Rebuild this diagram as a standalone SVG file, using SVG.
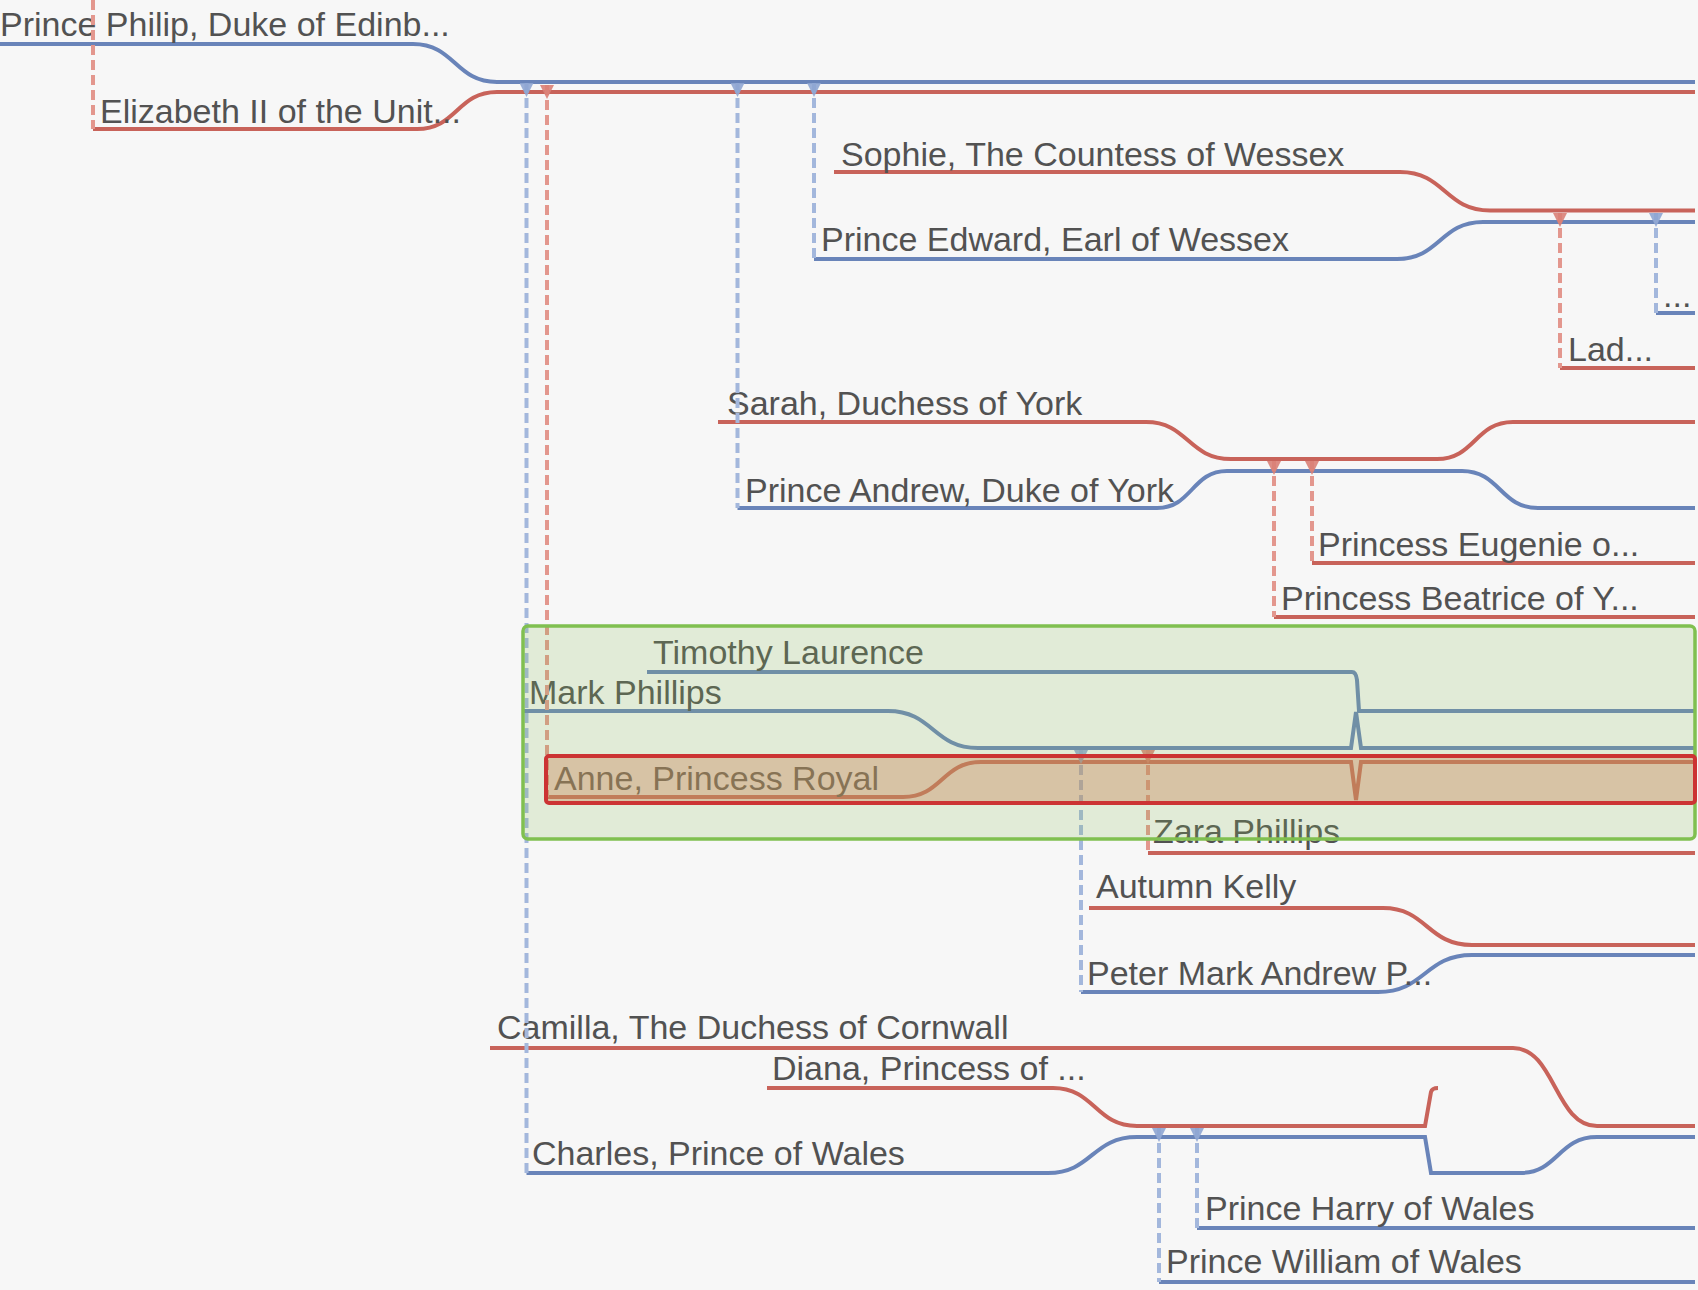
<svg xmlns="http://www.w3.org/2000/svg" width="1698" height="1290" viewBox="0 0 1698 1290">
<style>
text{font-family:"Liberation Sans",Arial,sans-serif;font-size:34px;fill:#525252}
.m{fill:none;stroke:#6984b9;stroke-width:4}
.f{fill:none;stroke:#c8635a;stroke-width:4}
.dm{fill:none;stroke:#a3b7dc;stroke-width:4;stroke-dasharray:10 5;marker-start:url(#am)}
.df{fill:none;stroke:#e3978e;stroke-width:4;stroke-dasharray:10 5;marker-start:url(#af)}
</style>
<defs>
<marker id="am" viewBox="0 0 10 10" refX="0" refY="5" markerUnits="userSpaceOnUse" markerWidth="16" markerHeight="14" orient="auto"><path d="M0,0 L10,5 L0,10 z" fill="#8ea5d2" fill-opacity="0.9"/></marker>
<marker id="af" viewBox="0 0 10 10" refX="0" refY="5" markerUnits="userSpaceOnUse" markerWidth="16" markerHeight="14" orient="auto"><path d="M0,0 L10,5 L0,10 z" fill="#d98076" fill-opacity="0.9"/></marker>
</defs>
<rect width="1698" height="1290" fill="#f7f7f7"/>

<g id="philip"><path class="m" d="M0,44 H413 C455,44 455,82 497,82 H1695"/><text x="0" y="36">Prince Philip, Duke of Edinb...</text></g>
<g id="elizabeth"><path class="f" d="M93,129 H417 C457,129 457,92 497,92 H1695"/><text x="100" y="123">Elizabeth II of the Unit...</text></g>

<g id="sophie"><path class="f" d="M834,172 H1400 C1445,172 1445,210.5 1490,210.5 H1695"/><text x="841" y="166">Sophie, The Countess of Wessex</text></g>
<g id="edward"><path class="m" d="M814,259 H1397 C1440,259 1440,222 1483,222 H1695"/><text x="821" y="251">Prince Edward, Earl of Wessex</text></g>
<g id="louise"><path class="f" d="M1560,368 H1695"/><text x="1568" y="361">Lad...</text></g>
<g id="james"><path class="m" d="M1656,313 H1695"/><text x="1663" y="307">...</text></g>

<g id="sarah"><path class="f" d="M718,422 H1146 C1188,422 1188,459 1231,459 H1437 C1475,459 1475,422 1513,422 H1695"/><text x="727" y="415">Sarah, Duchess of York</text></g>
<g id="andrew"><path class="m" d="M737.5,508 H1157 C1192,508 1192,471 1227,471 H1462 C1500,471 1500,508 1538,508 H1695"/><text x="745" y="502">Prince Andrew, Duke of York</text></g>
<g id="eugenie"><path class="f" d="M1312,563 H1695"/><text x="1318" y="556">Princess Eugenie o...</text></g>
<g id="beatrice"><path class="f" d="M1274,617 H1695"/><text x="1281" y="610">Princess Beatrice of Y...</text></g>

<g id="timothy"><path class="m" d="M647,672 H1352 Q1356,672 1357,680 L1359,711 H1695"/><text x="653" y="664">Timothy Laurence</text></g>
<g id="mark"><path class="m" d="M523,711 H888 C933,711 933,748 978,748 H1351 L1356,712 L1361,748 H1695"/><text x="529" y="704">Mark Phillips</text></g>
<g id="anne"><path class="f" d="M546,797 H903 C942,797 942,762 981,762 H1351 L1356,800 L1361,762 H1695"/><text x="554" y="790">Anne, Princess Royal</text></g>
<g id="zara"><path class="f" d="M1148,853 H1695"/><text x="1153" y="843">Zara Phillips</text></g>
<g id="autumn"><path class="f" d="M1089,908 H1383 C1427,908 1427,945 1472,945 H1695"/><text x="1096" y="898">Autumn Kelly</text></g>
<g id="peter"><path class="m" d="M1081,992 H1378 C1425,992 1425,955 1472,955 H1695"/><text x="1087" y="985">Peter Mark Andrew P...</text></g>

<g id="camilla"><path class="f" d="M490,1048 H1513 C1555,1048 1555,1126 1597,1126 H1695"/><text x="497" y="1039">Camilla, The Duchess of Cornwall</text></g>
<g id="diana"><path class="f" d="M767,1088 H1053 C1095,1088 1095,1126 1137,1126 H1425 L1431,1092 Q1432,1088 1438,1088"/><text x="772" y="1080">Diana, Princess of ...</text></g>
<g id="charles"><path class="m" d="M526.5,1173 H1048 C1092,1173 1092,1137 1137,1137 H1425 L1431,1173 H1520 C1558,1173 1558,1137 1597,1137 H1695"/><text x="532" y="1165">Charles, Prince of Wales</text></g>
<g id="harry"><path class="m" d="M1197,1228 H1695"/><text x="1205" y="1220">Prince Harry of Wales</text></g>
<g id="william"><path class="m" d="M1159,1282 H1695"/><text x="1166" y="1273">Prince William of Wales</text></g>

<g id="connectors">
<path class="df" style="marker-start:none" d="M93,0 V129"/>
<path class="dm" d="M526.5,83 V1173"/>
<path class="df" d="M547,85 V797"/>
<path class="dm" d="M737.5,83 V508"/>
<path class="dm" d="M814,83 V259"/>
<path class="df" d="M1560,213 V368"/>
<path class="dm" d="M1656,213 V313"/>
<path class="df" d="M1274,461 V617"/>
<path class="df" d="M1312,461 V563"/>
<path class="dm" d="M1081,750 V992"/>
<path class="df" d="M1148,750 V853"/>
<path class="dm" d="M1159,1128 V1282"/>
<path class="dm" d="M1197,1128 V1228"/>
</g>

<g id="highlight-family"><rect x="523" y="626" width="1172" height="213" rx="5" fill="rgb(140,190,90)" fill-opacity="0.2" stroke="#80c050" stroke-width="3.5"/></g>
<g id="highlight-anne"><rect x="546" y="756" width="1149" height="47" rx="3" fill="rgb(201,136,91)" fill-opacity="0.4" stroke="#cc3333" stroke-width="4"/></g>
</svg>
